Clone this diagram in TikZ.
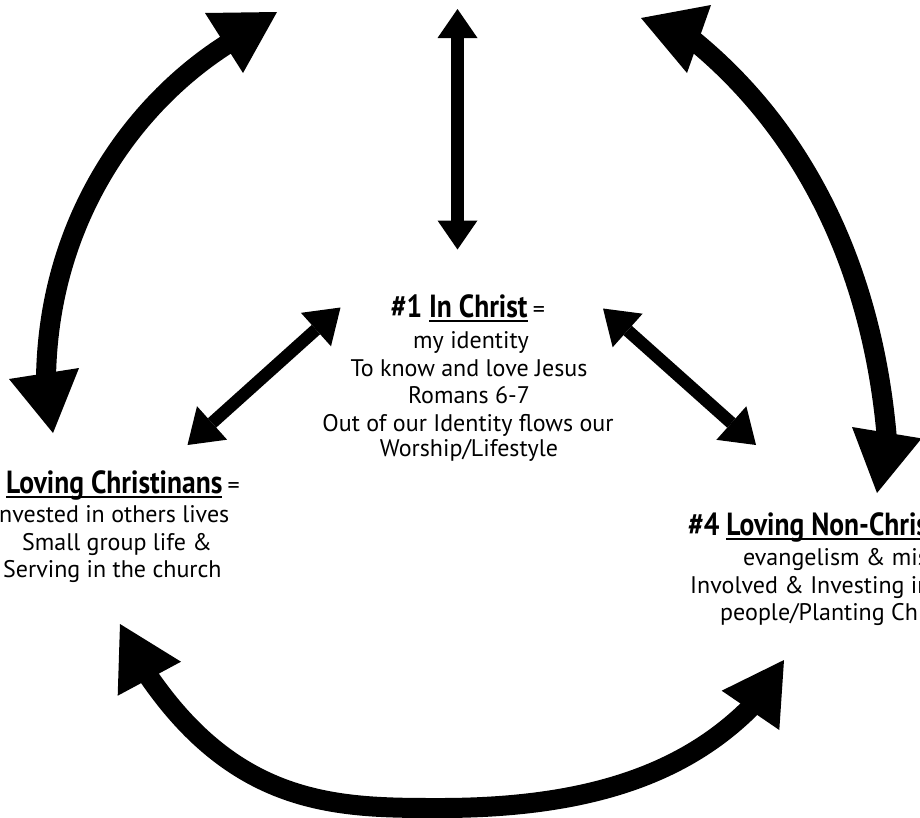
\documentclass[tikz,border=0pt]{standalone}
\usepackage{fontspec}
\setmainfont{PT Sans}
\newfontfamily\bodyfont{PT Sans}
\newfontfamily\headfont{PT Sans}[FakeStretch=0.86]
\usetikzlibrary{arrows.meta}
\newcommand\ulx[1]{\sbox0{#1}\rlap{\rule[-4.5pt]{\wd0}{2pt}}\usebox0}
\newcommand\eqsign{{\bodyfont\mdseries\fontsize{24}{27}\selectfont =}}
\tikzset{
  bodytxt/.style={inner sep=0pt, font=\bodyfont\fontsize{24}{27}\selectfont},
  headtxt/.style={inner sep=0pt, font=\headfont\bfseries\fontsize{32}{34}\selectfont},
  thinarrow/.style={line width=12.5pt,
    {Triangle[length=29pt,width=40pt,line width=0pt]}-{Triangle[length=29pt,width=40pt,line width=0pt]}},
  diagarrow/.style={line width=12.5pt,
    {Triangle[length=33pt,width=45pt,line width=0pt]}-{Triangle[length=33pt,width=45pt,line width=0pt]}},
  bigshaft/.style={line width=20pt, line cap=butt},
  bighead/.style={fill=black, draw=none}
}
\begin{document}
\begin{tikzpicture}[x=1pt,y=-1pt]
\useasboundingbox (0,0) rectangle (920,817);
% ---- centre text
\node[headtxt, anchor=base] (c1) at (468,317) {\#1 \ulx{In Christ}\,\eqsign};
\node[bodytxt, anchor=base] (c2) at (471,348) {my identity};
\node[bodytxt, anchor=base] (c3) at (469,376) {To know and love Jesus};
\node[bodytxt, anchor=base] (c4) at (469,403) {Romans 6-7};
\node[bodytxt, anchor=base] (c5) at (468,431) {Out of our Identity flows our};
\node[bodytxt, anchor=base] (c6) at (469,456) {Worship/Lifestyle};
% ---- left text
\node[headtxt, anchor=base west] (l1) at (6,493) {\ulx{Loving Christinans}\,\eqsign};
\node[bodytxt, anchor=base west] (l2) at (-1,522) {nvested in others lives};
\node[bodytxt, anchor=base] (l3) at (117,550) {Small group life \&};
\node[bodytxt, anchor=base west] (l4) at (3,577) {Serving in the church};
% ---- right text
\node[headtxt, anchor=base west] (r1) at (688,535) {\#4 \ulx{Loving Non-Chris}};
\node[bodytxt, anchor=base west] (r2) at (743,565) {evangelism \& mis};
\node[bodytxt, anchor=base west] (r3) at (690,593) {Involved \& Investing in};
\node[bodytxt, anchor=base west] (r4) at (720,620) {people/Planting Ch};
% ---- straight arrows
\coordinate (vt) at (457.5,9);
\coordinate (vb) at (457.5,249.5);
\coordinate (ldt) at (340.5,307.5);
\coordinate (ldb) at (187.5,445);
\coordinate (rdt) at (603,308.5);
\coordinate (rdb) at (756,445);
\draw[thinarrow] (vt) -- (vb);
\draw[diagarrow] (ldt) -- (ldb);
\draw[diagarrow] (rdt) -- (rdb);
% ---- top-left curved arrow
\coordinate (a1) at (46,379);
\coordinate (a2) at (229,43);
\draw[bigshaft] (a1) .. controls (48,222) and (132,104) .. (a2);
\fill[bighead] (205,13) -- (277,12) -- (243,73) -- cycle;
\fill[bighead] (9,379) -- (79,368) -- (53,433) -- cycle;
% ---- top-right curved arrow
\coordinate (b1) at (693,40);
\coordinate (b2) at (887,440);
\draw[bigshaft] (b1) .. controls (813,138) and (874,282) .. (b2);
\fill[bighead] (641,18) -- (711,5) -- (687,73) -- cycle;
\fill[bighead] (852,427) -- (921.6,438.4) -- (877,493) -- cycle;
% ---- bottom curved arrow
\coordinate (d1) at (147,674);
\coordinate (dm) at (440,808);
\coordinate (d2) at (754,704);
\draw[bigshaft] (d1) .. controls (238,808) and (340,808) .. (dm)
                     .. controls (590,808) and (687,773) .. (d2);
\fill[bighead] (120,624) -- (181,661.7) -- (117.7,695.7) -- cycle;
\fill[bighead] (784,660) -- (721.7,690.7) -- (779.3,730) -- cycle;
\end{tikzpicture}
\end{document}
